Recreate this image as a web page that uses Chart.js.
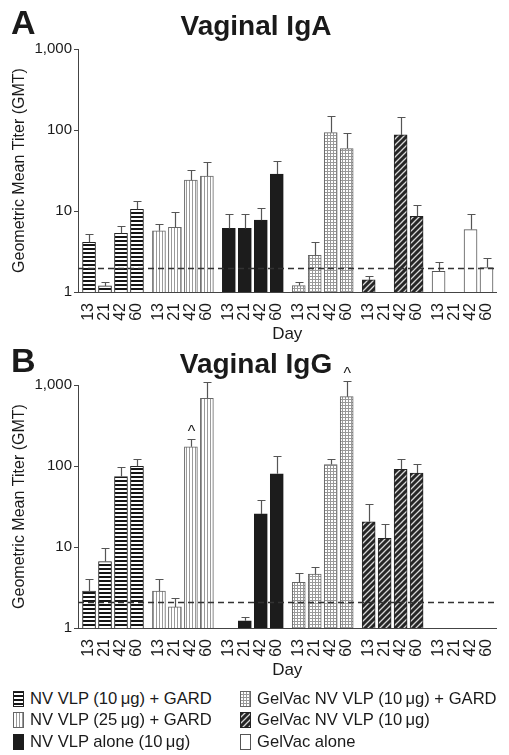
<!DOCTYPE html>
<html>
<head>
<meta charset="utf-8">
<script src="https://cdn.jsdelivr.net/npm/chart.js@4.4.0/dist/chart.umd.min.js"></script>
<style>
  body { margin: 0; background: #fff; width: 509px; height: 755px; position: relative; overflow: hidden;
         font-family: "Liberation Sans", Arial, sans-serif; color: #1a1a1a; }
  canvas.panel { position: absolute; left: 0; }
  .item { position: absolute; display: flex; align-items: center; height: 21px; white-space: nowrap; font-size: 16.6px; }
  .item canvas { margin-right: 6px; }
</style>
</head>
<body>
<canvas id="chartA" class="panel" width="509" height="345" style="top:0"></canvas>
<canvas id="chartB" class="panel" width="509" height="345" style="top:336px"></canvas>
<div id="legend"></div>
<script>
// groups (vaccine formulations) and sampling days
const groups = [
  'NV VLP (10\u2009\u03bcg) + GARD',
  'NV VLP (25\u2009\u03bcg) + GARD',
  'NV VLP alone (10\u2009\u03bcg)',
  'GelVac NV VLP (10\u2009\u03bcg) + GARD',
  'GelVac NV VLP (10\u2009\u03bcg)',
  'GelVac alone'
];
const days = ['13', '21', '42', '60'];
const yTicks = [1, 10, 100, 1000];

// Vaginal IgA: GMT per group/day, and top of the error bar
const igaGMT = [
  [4.1, 1.19, 5.3, 10.5],
  [5.7, 6.3, 24, 27],
  [6.1, 6.1, 7.7, 28.6],
  [1.2, 2.84, 93, 59],
  [1.41, null, 87, 8.6],
  [1.8, null, 5.9, 2.0]
];
const igaUpper = [
  [5.2, 1.32, 6.6, 13.3],
  [7.0, 9.6, 32, 40],
  [9.3, 9.3, 11, 42],
  [1.32, 4.1, 150, 93],
  [1.56, null, 145, 11.7],
  [2.33, null, 9.3, 2.6]
];
const igaCutoff = 2.0;

// Vaginal IgG
const iggGMT = [
  [2.86, 6.6, 74, 99],
  [2.86, 1.82, 173, 685],
  [null, 1.23, 25.6, 80],
  [3.67, 4.64, 104, 718],
  [20.5, 12.8, 91, 82],
  [null, null, null, null]
];
const iggUpper = [
  [4.0, 9.7, 96, 121],
  [4.0, 2.35, 213, 1100],
  [null, 1.36, 38, 133],
  [4.8, 5.6, 123, 1110],
  [33.7, 19, 121, 106],
  [null, null, null, null]
];
const iggCutoff = 2.1;
// bars marked with ^  [group, day]
const iggCarets = [[1, 2], [3, 3]];

// x position of a bar in "bar slot" units (groups are separated by a small gap)
const GROUP_STEP = 4.375;
const X_START = 0.69;
const X_MAX = 26.19;
function xPos(g, d) { return X_START + g * GROUP_STEP + d; }

const FONT = '"Liberation Sans", Arial, sans-serif';
Chart.defaults.font.family = FONT;
Chart.defaults.color = '#1a1a1a';

// fill patterns for the six groups
function makePattern(kind) {
  const c = document.createElement('canvas');
  const x = c.getContext('2d');
  if (kind === 'hstripe') {
    c.width = 4; c.height = 4;
    x.fillStyle = '#fff'; x.fillRect(0, 0, 4, 4);
    x.fillStyle = '#151515'; x.fillRect(0, 0, 4, 2);
  } else if (kind === 'vstripe') {
    c.width = 3; c.height = 3;
    x.fillStyle = '#fff'; x.fillRect(0, 0, 3, 3);
    x.fillStyle = '#9a9a9a'; x.fillRect(0, 0, 1, 3);
  } else if (kind === 'grid') {
    c.width = 3; c.height = 3;
    x.fillStyle = '#fff'; x.fillRect(0, 0, 3, 3);
    x.fillStyle = '#999'; x.fillRect(0, 0, 3, 1); x.fillRect(0, 0, 1, 3);
  } else if (kind === 'diag') {
    c.width = 6; c.height = 6;
    x.fillStyle = '#262626'; x.fillRect(0, 0, 6, 6);
    x.strokeStyle = '#d8d8d8'; x.lineWidth = 1.3;
    x.beginPath();
    x.moveTo(-1, 7); x.lineTo(7, -1);
    x.moveTo(-1, 1); x.lineTo(1, -1);
    x.moveTo(5, 7); x.lineTo(7, 5);
    x.stroke();
  } else if (kind === 'solid') {
    return '#1c1c1c';
  } else {
    return '#ffffff';
  }
  return x.createPattern(c, 'repeat');
}
const fills = ['hstripe', 'vstripe', 'solid', 'grid', 'diag', 'white'].map(makePattern);
const borders = ['#222', '#666', '#1c1c1c', '#666', '#222', '#555'];

function buildChart(canvasId, panel) {
  const datasets = groups.map((name, g) => ({
    label: name,
    data: days.map((d, i) => ({ x: xPos(g, i), y: panel.gmt[g][i] })).filter(p => p.y != null),
    backgroundColor: fills[g],
    borderColor: borders[g],
    borderWidth: 1,
    barThickness: 13,
    grouped: false
  }));

  const tickPositions = [];
  groups.forEach((n, g) => days.forEach((d, i) => tickPositions.push(xPos(g, i))));

  // error bars, cut-off line, carets, titles
  const decorations = {
    id: 'decorations',
    afterDatasetsDraw(chart) {
      const ctx = chart.ctx;
      const xs = chart.scales.x, ys = chart.scales.y;
      const area = chart.chartArea;
      ctx.save();
      ctx.strokeStyle = '#555';
      ctx.lineWidth = 1.2;
      panel.upper.forEach((row, g) => row.forEach((u, i) => {
        if (u == null || panel.gmt[g][i] == null) return;
        const px = Math.round(xs.getPixelForValue(xPos(g, i))) + 0.5;
        const top = ys.getPixelForValue(panel.gmt[g][i]);
        const cap = Math.round(ys.getPixelForValue(u)) + 0.5;
        ctx.beginPath();
        ctx.moveTo(px, top); ctx.lineTo(px, cap);
        ctx.moveTo(px - 4, cap); ctx.lineTo(px + 4, cap);
        ctx.stroke();
      }));

      // cut-off
      const cy = Math.round(ys.getPixelForValue(panel.cutoff)) + 0.5;
      ctx.strokeStyle = '#333';
      ctx.lineWidth = 1.5;
      ctx.setLineDash([6, 4]);
      ctx.beginPath();
      ctx.moveTo(area.left, cy); ctx.lineTo(area.right, cy);
      ctx.stroke();
      ctx.setLineDash([]);

      // carets
      ctx.fillStyle = '#1a1a1a';
      ctx.font = '16px ' + FONT;
      ctx.textAlign = 'center';
      ctx.textBaseline = 'alphabetic';
      (panel.carets || []).forEach(([g, i]) => {
        const px = xs.getPixelForValue(xPos(g, i)) + 0.5;
        const cap = ys.getPixelForValue(panel.upper[g][i]);
        ctx.fillText('^', px, cap - 2);
      });

      // panel letter and title
      ctx.textAlign = 'left';
      ctx.font = 'bold 34px ' + FONT;
      ctx.fillText(panel.letter, 11, panel.letterY);
      ctx.textAlign = 'center';
      ctx.font = 'bold 28px ' + FONT;
      ctx.fillText(panel.title, 256, panel.titleY);

      // axis titles
      ctx.font = '17px ' + FONT;
      ctx.fillText('Day', (area.left + area.right) / 2, 339);
      ctx.font = '16px ' + FONT;
      ctx.translate(24, (area.top + area.bottom) / 2);
      ctx.rotate(-Math.PI / 2);
      ctx.fillText('Geometric Mean Titer (GMT)', 0, 0);
      ctx.restore();
    }
  };

  return new Chart(document.getElementById(canvasId), {
    type: 'bar',
    data: { datasets: datasets },
    options: {
      responsive: false,
      animation: false,
      layout: { padding: { top: 49, right: 12, left: 0, bottom: 0 } },
      plugins: { legend: { display: false }, tooltip: { enabled: false } },
      scales: {
        x: {
          type: 'linear',
          min: 0,
          max: X_MAX,
          offset: false,
          grid: { display: false },
          border: { display: true, color: '#444', width: 1 },
          afterBuildTicks: scale => { scale.ticks = tickPositions.map(v => ({ value: v })); },
          afterFit: scale => { scale.height = 53; },
          ticks: {
            autoSkip: false,
            minRotation: 90,
            maxRotation: 90,
            padding: 3,
            font: { size: 16 },
            color: '#1a1a1a',
            callback: (v, idx) => days[idx % days.length]
          }
        },
        y: {
          type: 'logarithmic',
          min: 1,
          max: 1000,
          grid: { display: true, drawOnChartArea: false, drawTicks: true, tickLength: 4, color: '#444' },
          border: { display: true, color: '#444', width: 1 },
          afterBuildTicks: scale => { scale.ticks = yTicks.map(v => ({ value: v })); },
          afterFit: scale => { scale.width = 78; },
          ticks: {
            padding: 2,
            font: { size: 15 },
            color: '#1a1a1a',
            callback: v => Number(v).toLocaleString('en-US')
          }
        }
      }
    },
    plugins: [decorations]
  });
}

buildChart('chartA', {
  letter: 'A', title: 'Vaginal IgA', letterY: 34, titleY: 35,
  gmt: igaGMT, upper: igaUpper, cutoff: igaCutoff, carets: []
});
buildChart('chartB', {
  letter: 'B', title: 'Vaginal IgG', letterY: 36, titleY: 37,
  gmt: iggGMT, upper: iggUpper, cutoff: iggCutoff, carets: iggCarets
});

// legend, two columns
const legend = document.getElementById('legend');
const legendPos = [[13, 688], [13, 709.5], [13, 731], [240, 688], [240, 709.5], [240, 731]];
groups.forEach((name, g) => {
  const item = document.createElement('div');
  item.className = 'item';
  item.style.left = legendPos[g][0] + 'px';
  item.style.top = legendPos[g][1] + 'px';
  const sw = document.createElement('canvas');
  sw.width = 11; sw.height = 16;
  const sctx = sw.getContext('2d');
  sctx.fillStyle = fills[g];
  sctx.fillRect(0, 0, 11, 16);
  sctx.strokeStyle = borders[g];
  sctx.lineWidth = 1;
  sctx.strokeRect(0.5, 0.5, 10, 15);
  item.appendChild(sw);
  const label = document.createElement('span');
  label.textContent = name;
  item.appendChild(label);
  legend.appendChild(item);
});
</script>
</body>
</html>
